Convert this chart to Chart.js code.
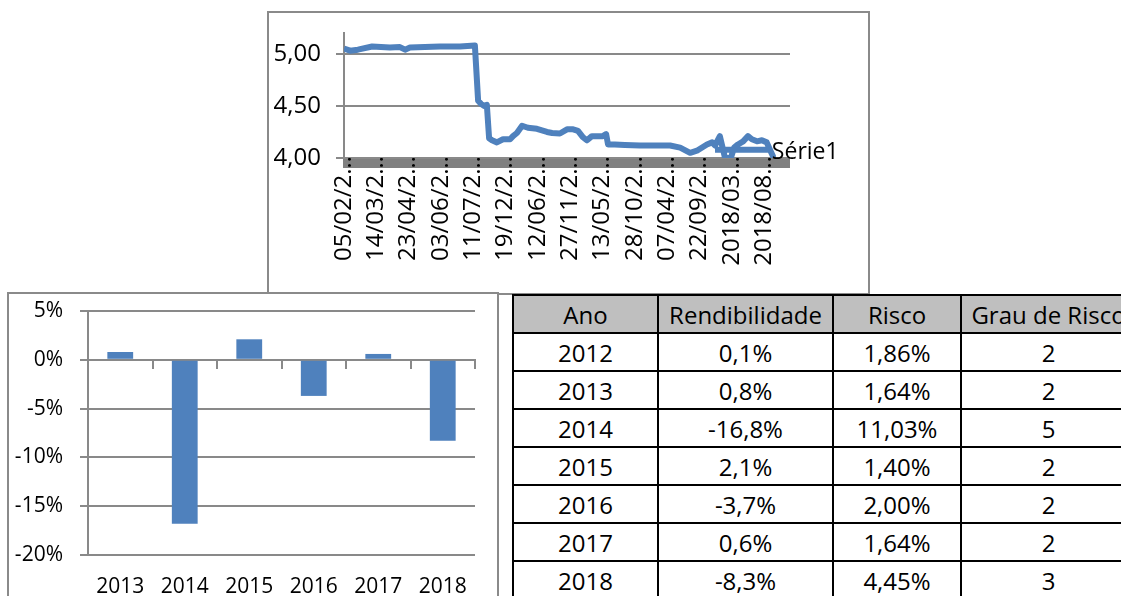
<!DOCTYPE html>
<html>
<head>
<meta charset="utf-8">
<script src="https://cdn.jsdelivr.net/npm/chart.js@4.4.1/dist/chart.umd.min.js"></script>
<style>
  html, body { margin: 0; padding: 0; background: #fff; width: 1121px; height: 596px; overflow: hidden; }
  .caixa { position: absolute; border: 2px solid #8a8a8a; box-sizing: border-box; background: #fff; }
  #caixaCotacao { left: 267px; top: 11px; width: 603px; height: 284px; }
  #caixaRend { left: 7px; top: 292px; width: 492px; height: 320px; }
  canvas { position: absolute; }
  #graficoCotacao { left: 269px; top: 13px; }
  #graficoRend { left: 9px; top: 294px; }
  #tabela {
    position: absolute; left: 512px; top: 294px; width: 623px;
    border-collapse: collapse; table-layout: fixed;
    font-family: "Open Sans", sans-serif; font-size: 24px; color: #000;
  }
  #tabela td, #tabela th {
    border: 2px solid #000; height: 36px; padding: 0; text-align: center;
    font-weight: normal; white-space: nowrap; overflow: hidden;
  }
  #tabela th { background: #bfbfbf; }
</style>
</head>
<body>
<div class="caixa" id="caixaCotacao"></div>
<div class="caixa" id="caixaRend"></div>
<canvas id="graficoCotacao" width="598" height="280"></canvas>
<canvas id="graficoRend" width="488" height="302"></canvas>
<table id="tabela">
  <colgroup><col style="width:145px"><col style="width:175px"><col style="width:128px"><col style="width:175px"></colgroup>
  <thead><tr id="cabecalho"></tr></thead>
  <tbody id="corpo"></tbody>
</table>
<script>
// Cotação (eixo x em posições de data, 10 unidades por rótulo)
const rotulosDatas = ['05/02/2…', '14/03/2…', '23/04/2…', '03/06/2…', '11/07/2…', '19/12/2…', '12/06/2…',
    '27/11/2…', '13/05/2…', '28/10/2…', '07/04/2…', '22/09/2…', '2018/03…', '2018/08…'];
const posicoes = [0, 1.9, 4.3, 8.7, 14.2, 17.3, 18.9, 20.4, 25, 29.7, 35.9, 40.5, 41.5, 42.4, 43.3, 44.2,
    44.9, 45.8, 47.3, 49.2, 51.4, 52.3, 53.5, 55.1, 56.9, 59.7, 62.8, 64.4, 66.8, 69.0, 70.9, 72.4,
    73.9, 75.2, 76.7, 80.1, 81.1, 81.7, 83.8, 86.9, 91.6, 96.2, 100.9, 104.0, 107.1, 109.2, 112.3,
    113.9, 114.8, 116.3, 117.9, 119.7, 120.7, 121.9, 123.5, 125.0, 126.2, 127.8, 129.3, 130.8, 131.8,
    132.7, 131.8, 114.8];
const cotacoes = [5.05, 5.03, 5.04, 5.07, 5.06, 5.065, 5.04, 5.06, 5.065, 5.07, 5.07, 5.08, 4.55, 4.52, 4.50, 4.51,
    4.19, 4.17, 4.15, 4.18, 4.18, 4.21, 4.24, 4.31, 4.29, 4.28, 4.25, 4.24, 4.235, 4.275, 4.275, 4.26,
    4.20, 4.17, 4.21, 4.21, 4.23, 4.13, 4.13, 4.125, 4.12, 4.12, 4.12, 4.10, 4.05, 4.07, 4.13,
    4.15, 4.12, 4.21, 4.00, 4.00, 4.10, 4.13, 4.16, 4.21, 4.18, 4.16, 4.17, 4.15, 4.08,
    4.02, 4.08, 4.08];

// Rendibilidade anual
const anosGrafico = ['2013', '2014', '2015', '2016', '2017', '2018'];
const rendGrafico = [0.8, -16.8, 2.1, -3.7, 0.6, -8.3];

// Tabela
const colunas = ['Ano', 'Rendibilidade', 'Risco', 'Grau de Risco'];
const anos = ['2012', '2013', '2014', '2015', '2016', '2017', '2018'];
const rendibilidade = ['0,1%', '0,8%', '-16,8%', '2,1%', '-3,7%', '0,6%', '-8,3%'];
const risco = ['1,86%', '1,64%', '11,03%', '1,40%', '2,00%', '1,64%', '4,45%'];
const grauRisco = ['2', '2', '5', '2', '2', '2', '3'];

const fonte = '"Open Sans", sans-serif';
const azul = '#4f81bd';
const cinza = '#898989';

// faixa cinzenta do eixo horizontal
const faixaEixo = {
    id: 'faixaEixo',
    beforeDraw(chart) {
        const a = chart.chartArea;
        const ctx = chart.ctx;
        ctx.save();
        ctx.fillStyle = '#808080';
        ctx.fillRect(a.left - 1, a.bottom, a.right - a.left + 1, 10);
        ctx.restore();
    }
};

// rótulo "Série1" junto ao último ponto
const rotuloSerie = {
    id: 'rotuloSerie',
    afterDatasetsDraw(chart) {
        const pts = chart.getDatasetMeta(0).data;
        let ultimo = pts[0];
        pts.forEach(p => { if (p.x > ultimo.x) ultimo = p; });
        const ctx = chart.ctx;
        ctx.save();
        ctx.font = '23px ' + fonte;
        ctx.fillStyle = '#000';
        ctx.textBaseline = 'middle';
        ctx.fillText(chart.data.datasets[0].label, ultimo.x - 1, ultimo.y - 3);
        ctx.restore();
    }
};

new Chart(document.getElementById('graficoCotacao'), {
    type: 'line',
    data: {
        datasets: [{
            label: 'Série1',
            data: posicoes.map((x, i) => ({ x: x, y: cotacoes[i] })),
            borderColor: azul,
            borderWidth: 6,
            borderJoinStyle: 'round',
            pointRadius: 0,
            tension: 0,
        }]
    },
    options: {
        responsive: false,
        animation: false,
        layout: { padding: { left: 0, top: 20, right: 77, bottom: 0 } },
        plugins: { legend: { display: false }, tooltip: { enabled: false } },
        scales: {
            x: {
                type: 'linear',
                min: 0,
                max: 138,
                grid: { display: false },
                border: { display: false },
                afterFit(s) { s.height = 135; },
                ticks: {
                    stepSize: 10,
                    includeBounds: false,
                    autoSkip: false,
                    minRotation: 90,
                    maxRotation: 90,
                    padding: -10,
                    color: '#000',
                    font: { family: fonte, size: 24 },
                    callback: v => rotulosDatas[v / 10] || ''
                }
            },
            y: {
                min: 4,
                max: 5.2,
                afterFit(s) { s.width = 75; s.paddingTop = 0; },
                grid: { color: cinza, lineWidth: 2, tickLength: 8 },
                border: { color: cinza, width: 2 },
                ticks: {
                    stepSize: 0.5,
                    includeBounds: false,
                    padding: 15,
                    color: '#000',
                    font: { family: fonte, size: 24 },
                    callback: v => v.toFixed(2).replace('.', ',')
                }
            }
        }
    },
    plugins: [faixaEixo, rotuloSerie]
});

new Chart(document.getElementById('graficoRend'), {
    type: 'bar',
    data: {
        labels: anosGrafico,
        datasets: [{
            label: 'Rendibilidade',
            data: rendGrafico,
            backgroundColor: azul,
            barPercentage: 0.4,
            categoryPercentage: 1.0,
        }]
    },
    options: {
        responsive: false,
        animation: false,
        layout: { padding: { left: 0, top: 17, right: 22, bottom: 0 } },
        plugins: { legend: { display: false }, tooltip: { enabled: false } },
        scales: {
            x: {
                type: 'category',
                position: { y: 0 },
                offset: true,
                grid: { offset: true, drawOnChartArea: false, drawTicks: true, tickLength: 8, color: cinza, lineWidth: 2 },
                border: { color: cinza, width: 2 },
                ticks: { display: false }
            },
            x2: {
                type: 'category',
                position: 'bottom',
                offset: true,
                afterFit(s) { s.height = 41; },
                grid: { display: false, drawTicks: false },
                border: { display: false },
                ticks: { padding: 19, color: '#000', font: { family: fonte, size: 21 } }
            },
            y: {
                min: -20,
                max: 5,
                afterFit(s) { s.width = 79; s.paddingTop = 0; s.paddingBottom = 0; },
                grid: { color: cinza, lineWidth: 2, tickLength: 8 },
                border: { color: cinza, width: 2 },
                ticks: {
                    stepSize: 5,
                    padding: 17,
                    color: '#000',
                    font: { family: fonte, size: 21 },
                    callback: v => v + '%'
                }
            }
        }
    }
});

// preencher a tabela
const cab = document.getElementById('cabecalho');
colunas.forEach(c => {
    const th = document.createElement('th');
    th.textContent = c;
    cab.appendChild(th);
});
const corpo = document.getElementById('corpo');
anos.forEach((a, i) => {
    const tr = document.createElement('tr');
    [a, rendibilidade[i], risco[i], grauRisco[i]].forEach(v => {
        const td = document.createElement('td');
        td.textContent = v;
        tr.appendChild(td);
    });
    corpo.appendChild(tr);
});
</script>
</body>
</html>
